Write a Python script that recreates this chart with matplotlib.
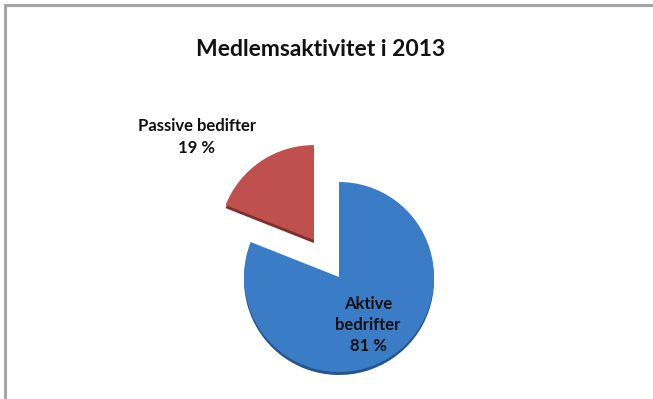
import matplotlib.pyplot as plt
from matplotlib.patches import Rectangle

# data
labels = ['Passive bedifter', 'Aktive\nbedrifter']
shares = [19, 81]
colors = ['#C0504D', '#3A7CC6']
shadow_colors = ['#7E2E2C', '#24558C']
explode = [0.47, 0]
title = 'Medlemsaktivitet i 2013'

plt.rcParams['font.family'] = ['Lato', 'DejaVu Sans']

fig = plt.figure(figsize=(6.53, 3.99), dpi=100)
ax = fig.add_axes([0, 0, 1, 1])

cx, cy, r = 339, 122, 95
expl = [e * r for e in explode]  # pie() takes explode in data units

# thin "3d" edge underneath
ax.pie(shares, colors=shadow_colors, explode=expl, startangle=90,
       center=(cx, cy - 3), radius=r, frame=True)
wedges, _ = ax.pie(shares, colors=colors, explode=expl, startangle=90,
                   center=(cx, cy), radius=r, frame=True)
ax.set_xlim(0, 653)
ax.set_ylim(0, 399)
ax.set_aspect('equal')
ax.axis('off')

ax.text(197, 262, f'{labels[0]}\n{shares[0]} %', ha='center', va='center',
        fontsize=12, fontweight='bold', linespacing=1.4, color='#111111')
ax.text(368, 74, f'{labels[1]}\n{shares[1]} %', ha='center', va='center',
        fontsize=12, fontweight='bold', linespacing=1.4, color='#111111')

ax.text(321, 349, title, ha='center', va='center', fontsize=16.5,
        fontweight='bold', color='#111111')

# frame (only top and left edges visible)
ax.add_patch(Rectangle((5, -20), 700, 414, fill=False, edgecolor='#A6A6A6',
                       linewidth=2.2, clip_on=False))

fig.savefig('out.png', dpi=100)
